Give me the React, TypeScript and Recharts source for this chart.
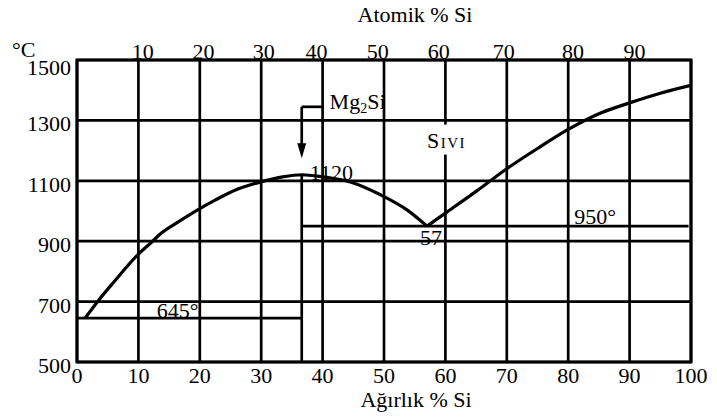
import React from 'react';
import {
  ComposedChart,
  Line,
  XAxis,
  YAxis,
  CartesianGrid,
  ReferenceLine,
  ReferenceDot,
  ReferenceArea,
} from 'recharts';

const FONT = "'Liberation Serif', 'Times New Roman', serif";

// liquidus, Mg side: weight % Si -> °C
const liquidusMgSide = [
  { x: 1.3, t: 645 },
  { x: 3.5, t: 704 },
  { x: 6, t: 765 },
  { x: 10, t: 857 },
  { x: 12, t: 894 },
  { x: 13.7, t: 926 },
  { x: 16.5, t: 964 },
  { x: 20, t: 1008 },
  { x: 22.5, t: 1036 },
  { x: 26, t: 1071 },
  { x: 30.4, t: 1099 },
  { x: 33.5, t: 1113 },
  { x: 36.6, t: 1120 },
  { x: 40, t: 1113 },
  { x: 44.5, t: 1096 },
  { x: 49.5, t: 1053 },
  { x: 53.8, t: 1003 },
  { x: 57, t: 950 },
];

// liquidus, Si side
const liquidusSiSide = [
  { x: 57, t: 950 },
  { x: 60, t: 993 },
  { x: 65, t: 1065 },
  { x: 70, t: 1140 },
  { x: 75, t: 1207 },
  { x: 80, t: 1270 },
  { x: 85, t: 1322 },
  { x: 90, t: 1358 },
  { x: 95, t: 1390 },
  { x: 100, t: 1416 },
];

const weightTicks = [0, 10, 20, 30, 40, 50, 60, 70, 80, 90, 100];
const tempTicks = [500, 700, 900, 1100, 1300, 1500];
// atomic % labels and where they sit on the weight % scale
const atomicLabels = ['10', '20', '30', '40', '50', '60', '70', '80', '90'];
const atomicPositions = [10.7, 20.6, 30.4, 39, 49, 58.9, 69.5, 80.8, 90.8];

const eutecticMg = 645;
const eutecticSi = 950;
const eutecticSiX = 57;
const compoundX = 36.6; // Mg2Si
const compoundMelt = 1120;

const txt = { fontSize: 22, fontFamily: FONT, fill: '#000' };

const TempTick = ({ x, y, payload }: any) => (
  <text x={x} y={y} dy={payload.value === 1500 ? 15 : 11} textAnchor="end" {...txt}>
    {payload.value}
  </text>
);

const TopTitle = ({ viewBox }: any) => (
  <text x={viewBox.x + viewBox.width / 2 + 31} y={viewBox.y + 22} textAnchor="middle" {...txt}>
    Atomik % Si
  </text>
);

const BottomTitle = ({ viewBox }: any) => (
  <text x={viewBox.x + viewBox.width / 2 + 32} y={viewBox.y + 45} textAnchor="middle" {...txt}>
    Ağırlık % Si
  </text>
);

const UnitLabel = ({ viewBox }: any) => (
  <text x={viewBox.x + 12} y={viewBox.y - 3} {...txt}>
    °C
  </text>
);

const note = (content: React.ReactNode, dx: number, dy: number, anchor = 'start') =>
  (p: any) => (
    <text x={p.cx + dx} y={p.cy + dy} textAnchor={anchor} {...txt}>
      {content}
    </text>
  );

const ArrowHead = (p: any) => (
  <polygon
    points={`${p.cx},${p.cy} ${p.cx - 4.5},${p.cy - 15} ${p.cx + 4.5},${p.cy - 15}`}
    fill="#000"
  />
);

const LiquidLabel = (p: any) => (
  <g>
    <rect x={p.cx - 3} y={p.cy - 23} width={50} height={30} fill="#fff" />
    <text x={p.cx} y={p.cy} {...txt} style={{ fontVariant: 'small-caps' }} letterSpacing={1.5}>
      Sıvı
    </text>
  </g>
);

export default function App() {
  return (
    <div style={{ position: 'absolute', left: 0, top: 0, width: 717, height: 417, background: '#fff' }}>
      <ComposedChart width={717} height={417} margin={{ top: 0, right: 26, bottom: 0, left: 0 }}>
        <CartesianGrid stroke="#000" strokeWidth={2.7} />
        <XAxis
          dataKey="x"
          type="number"
          domain={[0, 100]}
          ticks={weightTicks}
          interval={0}
          height={55}
          axisLine={false}
          tickLine={false}
          tickSize={0}
          tickMargin={5}
          tick={txt}
          allowDataOverflow
          label={BottomTitle}
        />
        {/* top axis only reserves room and carries the title; atomic % labels are placed below */}
        <XAxis
          xAxisId="top"
          orientation="top"
          type="number"
          domain={[0, 100]}
          height={60}
          axisLine={false}
          tickLine={false}
          tick={false}
          label={TopTitle}
        />
        <YAxis
          type="number"
          domain={[500, 1500]}
          ticks={tempTicks}
          interval={0}
          width={77}
          axisLine={false}
          tickLine={false}
          tickSize={0}
          tickMargin={6}
          tick={TempTick}
          allowDataOverflow
          label={UnitLabel}
        />
        <ReferenceArea x1={0} x2={100} y1={500} y2={1500} fill="none" stroke="#000" strokeWidth={3} />

        {/* eutectic and compound lines */}
        <ReferenceLine segment={[{ x: 0, y: eutecticMg }, { x: compoundX, y: eutecticMg }]} stroke="#000" strokeWidth={2.7} />
        <ReferenceLine segment={[{ x: compoundX, y: eutecticSi }, { x: 99.6, y: eutecticSi }]} stroke="#000" strokeWidth={2.7} />
        <ReferenceLine segment={[{ x: compoundX, y: 500 }, { x: compoundX, y: compoundMelt }]} stroke="#000" strokeWidth={2.7} />

        {/* Mg2Si pointer */}
        <ReferenceLine segment={[{ x: 40, y: 1345 }, { x: compoundX, y: 1345 }]} stroke="#000" strokeWidth={2.7} />
        <ReferenceLine segment={[{ x: compoundX, y: 1345 }, { x: compoundX, y: 1200 }]} stroke="#000" strokeWidth={2.7} />
        <ReferenceDot x={compoundX} y={1175} shape={ArrowHead} />

        <Line data={liquidusMgSide} dataKey="t" type="monotone" stroke="#000" strokeWidth={3.2} dot={false} isAnimationActive={false} />
        <Line data={liquidusSiSide} dataKey="t" type="monotone" stroke="#000" strokeWidth={3.2} dot={false} isAnimationActive={false} />

        {/* atomic % scale along the top edge */}
        {atomicPositions.map((pos, i) => (
          <ReferenceDot key={pos} x={pos} y={1500} shape={note(atomicLabels[i], 0, -1, 'middle')} />
        ))}

        <ReferenceDot x={compoundX} y={compoundMelt} shape={note(String(compoundMelt), 8, 5)} />
        <ReferenceDot x={eutecticSiX} y={eutecticSi} shape={note(String(eutecticSiX), 4, 19, 'middle')} />
        <ReferenceDot x={13} y={eutecticMg} shape={note(`${eutecticMg}°`, 0, 0)} />
        <ReferenceDot x={81} y={eutecticSi} shape={note(`${eutecticSi}°`, 0, -2)} />
        <ReferenceDot
          x={40}
          y={1345}
          shape={note(
            <>
              Mg<tspan fontSize={14} dy={4}>2</tspan>
              <tspan dy={-4}>Si</tspan>
            </>,
            7,
            2,
          )}
        />
        <ReferenceDot x={57} y={1210} shape={LiquidLabel} />
      </ComposedChart>
    </div>
  );
}
